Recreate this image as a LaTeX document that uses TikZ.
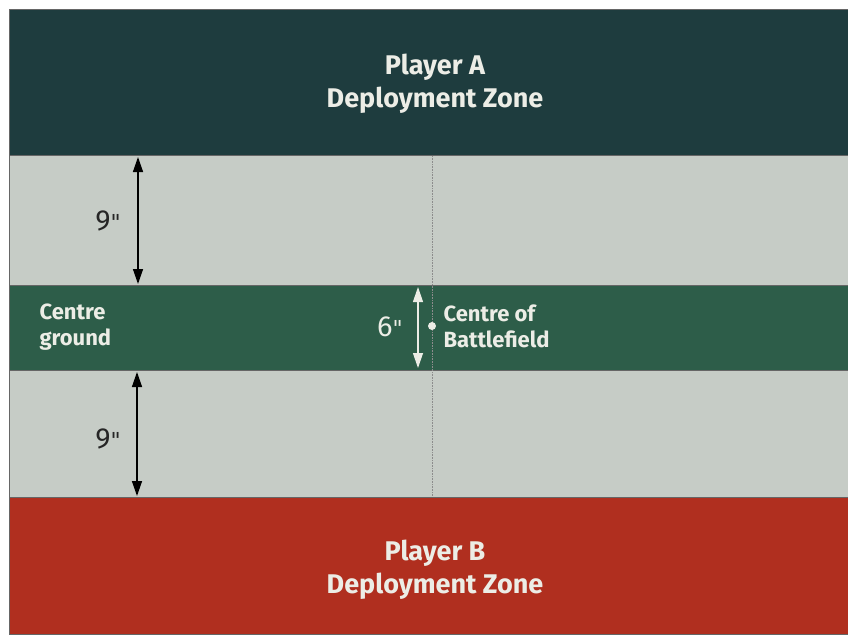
\documentclass[tikz,border=0pt]{standalone}
\usepackage{fontspec}
\setmainfont{Fira Sans}
\newfontfamily\quotefont{DejaVu Sans}
\usetikzlibrary{arrows.meta}
\definecolor{topteal}{HTML}{1E3C3E}
\definecolor{lightgrey}{HTML}{C6CCC6}
\definecolor{midgreen}{HTML}{2D5D49}
\definecolor{redzone}{HTML}{B02F1F}
\definecolor{labelwhite}{HTML}{ECEDE6}
\tikzset{
  band/.style={anchor=north west, inner sep=0pt, outer sep=0pt, minimum width=839pt, draw=black!60, line width=0.6pt},
  bigtext/.style={text=labelwhite, align=center, font=\fontsize{27}{33}\selectfont\bfseries},
  smalltext/.style={text=labelwhite, align=left, font=\fontsize{22}{26}\selectfont\bfseries},
  numtext/.style={font=\fontsize{29}{30}\selectfont},
  measure/.style={line width=1.4pt, {Triangle[width=10pt,length=15pt]}-{Triangle[width=10pt,length=15pt]}},
}
\newcommand{\inch}{{\quotefont\fontsize{22}{26}\selectfont"}}
\begin{document}
\begin{tikzpicture}[x=1pt,y=-1pt]
\useasboundingbox (0,0) rectangle (848,634);
\fill[white] (0,0) rectangle (848,634);
% bands
\node[band, fill=topteal, minimum height=146pt] (zoneA) at (9,9) {};
\node[band, fill=lightgrey, minimum height=130pt] (greyA) at (9,155) {};
\node[band, fill=midgreen, minimum height=85pt] (centre) at (9,285) {};
\node[band, fill=lightgrey, minimum height=127pt] (greyB) at (9,370) {};
\node[band, fill=redzone, minimum height=137pt] (zoneB) at (9,497) {};
% dotted centre line
\coordinate (dotTop) at (432,156);
\coordinate (dotBot) at (432,496);
\draw[black!45, densely dotted, line width=0.6pt] (dotTop) -- (dotBot);
% labels
\node[bigtext] (labelA) at (435,84) {Player A\\Deployment Zone};
\node[bigtext] (labelB) at (435,570) {Player B\\Deployment Zone};
\node[smalltext, anchor=west] (cground) at (36,327) {Centre\\ground};
\node[smalltext, anchor=west] (cbattle) at (440,326) {Centre of\\Battlefield};
% measurement arrows
\coordinate (a1) at (138,157);
\coordinate (a2) at (138,284);
\draw[measure, black] (a1) -- (a2);
\node[numtext, text=black!85] (nine1) at (108,221) {9\inch};
\coordinate (b1) at (137,372);
\coordinate (b2) at (137,496);
\draw[measure, black] (b1) -- (b2);
\node[numtext, text=black!85] (nine2) at (108,439) {9\inch};
\coordinate (c1) at (418,287);
\coordinate (c2) at (418,368);
\draw[measure, labelwhite, line width=1.2pt] (c1) -- (c2);
\node[numtext, text=labelwhite] (six) at (390,327) {6\inch};
\node[circle, fill=labelwhite, inner sep=0pt, minimum size=8pt] (centrept) at (432,326) {};
\end{tikzpicture}
\end{document}
